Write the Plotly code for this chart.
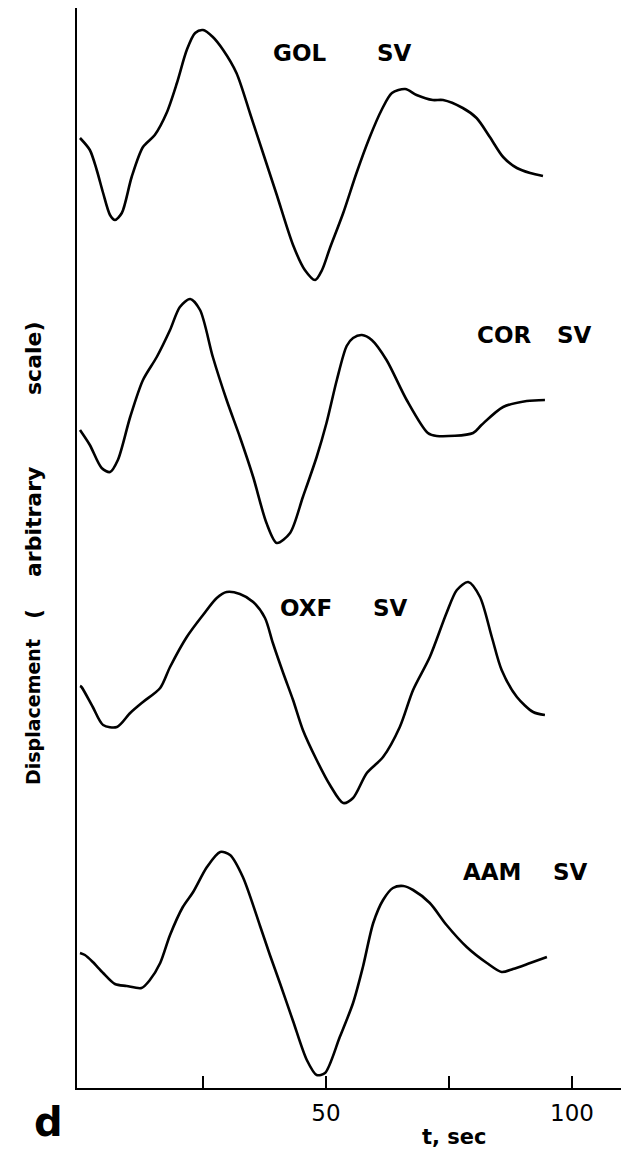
import plotly.graph_objects as go

# Time samples (s) and displacement (arbitrary units) for each station, SV component
t_gol = [0, 2.0, 3.4, 4.7, 6.1, 7.1, 8.5, 10.5, 12.8, 15.2, 17.6, 19.7, 21.7, 23.4, 25.0, 27.0,
         29.1, 31.8, 34.6, 37.2, 40.0, 43.3, 45.7, 47.8, 49.2, 50.8, 53.5, 56.2, 58.9, 61.3,
         63.4, 66.1, 68.4, 71.7, 73.8, 77.8, 80.6, 83.3, 86.0, 88.8, 91.5, 94.1]
d_gol = [0, -12, -32, -55, -77, -82, -75, -39, -9, 3, 25, 55, 88, 105, 108, 101,
         88, 65, 24, -15, -57, -107, -132, -142, -132, -110, -75, -35, 1, 28,
         45, 49, 43, 38, 38, 30, 20, 1, -19, -30, -35, -38]

t_cor = [0, 2.0, 4.4, 6.1, 7.7, 10.2, 12.8, 15.6, 18.3, 20.3, 22.4, 24.4, 27.0, 29.8, 32.5,
         35.2, 37.9, 40.0, 42.7, 45.3, 48.1, 50.1, 52.2, 54.2, 55.5, 57.3, 59.3, 62.3, 66.4,
         70.7, 72.5, 79.9, 81.6, 86.0, 90.8, 94.5]
d_cor = [0, -15, -38, -42, -30, 13, 50, 73, 100, 123, 131, 120, 73, 30, -7,
         -47, -93, -113, -103, -67, -27, 7, 50, 84, 92, 95, 90, 70, 30,
         -3, -6, -3, 5, 23, 29, 30]

t_oxf = [0, 0.3, 2.6, 4.7, 7.5, 10.2, 12.8, 16.3, 18.3, 21.7, 25.0, 27.8, 29.8, 32.5, 35.2,
         37.6, 39.2, 41.3, 43.3, 45.3, 48.1, 50.8, 53.5, 55.5, 58.3, 61.6, 65.0, 67.7, 71.1,
         74.5, 76.6, 78.9, 81.3, 83.7, 85.7, 88.8, 92.1, 94.5]
d_oxf = [0, -1, -21, -39, -41, -27, -16, -2, 19, 49, 71, 88, 94, 92, 84,
         68, 43, 13, -14, -44, -74, -99, -117, -112, -87, -71, -41, -4, 29,
         73, 96, 104, 89, 49, 16, -11, -26, -29]

t_aam = [0, 1.0, 2.6, 4.7, 7.1, 9.5, 12.5, 14.2, 16.3, 18.3, 20.9, 23.0, 25.8, 28.5, 30.5,
         33.1, 36.6, 38.6, 40.7, 43.3, 46.1, 48.1, 49.8, 52.8, 55.5, 57.5, 59.6, 61.6, 63.6,
         65.7, 67.7, 71.1, 74.5, 78.6, 82.7, 85.7, 88.0, 91.5, 94.9]
d_aam = [0, -2, -9, -20, -31, -33, -35, -27, -10, 18, 46, 61, 86, 101, 98,
         76, 27, -2, -31, -68, -107, -122, -120, -84, -50, -14, 30, 53, 65,
         67, 63, 50, 28, 6, -10, -19, -16, -10, -4]

stations = ["GOL", "COR", "OXF", "AAM"]
component = "SV"
x_tick_vals = [25, 50, 75, 100]
x_tick_text = ["", "50", "", "100"]

# vertical stacking of the traces and label placement
offsets = [950, 658, 402, 135]
label_pos = [(44.7, 1035), (86.2, 753), (45.9, 480), (83.9, 216)]
sv_x = [64.0, 100.6, 63.2, 99.6]

series = [(t_gol, d_gol), (t_cor, d_cor), (t_oxf, d_oxf), (t_aam, d_aam)]

W, H = 635, 1157
ml, mr, mt, mb = 77, 14, 8, 69
pw, ph = W - ml - mr, H - mt - mb


def px_to_paper(px, py):
    return (px - ml) / pw, (H - mb - py) / ph


fig = go.Figure()
for (t, d), off in zip(series, offsets):
    fig.add_trace(go.Scatter(
        x=t, y=[v + off for v in d], mode="lines",
        line=dict(color="black", width=2.6, shape="spline", smoothing=0.8),
        showlegend=False, hoverinfo="skip"))

label_font = dict(family="DejaVu Sans", size=23, color="black", weight="bold")
annotations = []
for name, (lx, ly), sx in zip(stations, label_pos, sv_x):
    annotations.append(dict(x=lx, y=ly, xref="x", yref="y", text=name, showarrow=False,
                            font=label_font, xanchor="center", yanchor="middle"))
    annotations.append(dict(x=sx, y=ly, xref="x", yref="y", text=component, showarrow=False,
                            font=label_font, xanchor="center", yanchor="middle"))

# rotated axis title, split into its spaced words
word_font = dict(family="DejaVu Sans", size=22, color="black", weight="bold")
title_words = [
    ("Displacement", 712, dict(family="DejaVu Sans", size=19, color="black", weight="bold")),
    ("(", 614, word_font),
    ("arbitrary", 522, word_font),
    ("scale)", 358, word_font),
]
for txt, py, fnt in title_words:
    ax, ay = px_to_paper(33, py)
    annotations.append(dict(x=ax, y=ay, xref="paper", yref="paper", text=txt, textangle=-90,
                            showarrow=False, font=fnt,
                            xanchor="center", yanchor="middle"))

ax, ay = px_to_paper(454, 1137)
annotations.append(dict(x=ax, y=ay, xref="paper", yref="paper", text="t, sec", showarrow=False,
                        xanchor="center", yanchor="middle",
                        font=dict(family="DejaVu Sans", size=21, color="black", weight="bold")))
ax, ay = px_to_paper(48, 1122)
annotations.append(dict(x=ax, y=ay, xref="paper", yref="paper", text="d", showarrow=False,
                        xanchor="center", yanchor="middle",
                        font=dict(family="DejaVu Sans", size=40, color="black", weight="bold")))

fig.update_layout(
    width=W, height=H,
    margin=dict(l=ml, r=mr, t=mt, b=mb),
    paper_bgcolor="white", plot_bgcolor="white",
    annotations=annotations,
    xaxis=dict(range=[-0.61, 109.96], showgrid=False, zeroline=False,
               showline=True, linecolor="black", linewidth=2,
               ticks="inside", ticklen=12, tickwidth=2, tickcolor="black",
               tickvals=x_tick_vals, ticktext=x_tick_text,
               tickfont=dict(family="DejaVu Sans", size=23, color="black"),
               ticklabelstandoff=3),
    yaxis=dict(range=[0, 1080], showgrid=False, zeroline=False, showticklabels=False,
               showline=True, linecolor="black", linewidth=2, ticks=""),
)

fig.write_html("out.html", config={"displayModeBar": False})
